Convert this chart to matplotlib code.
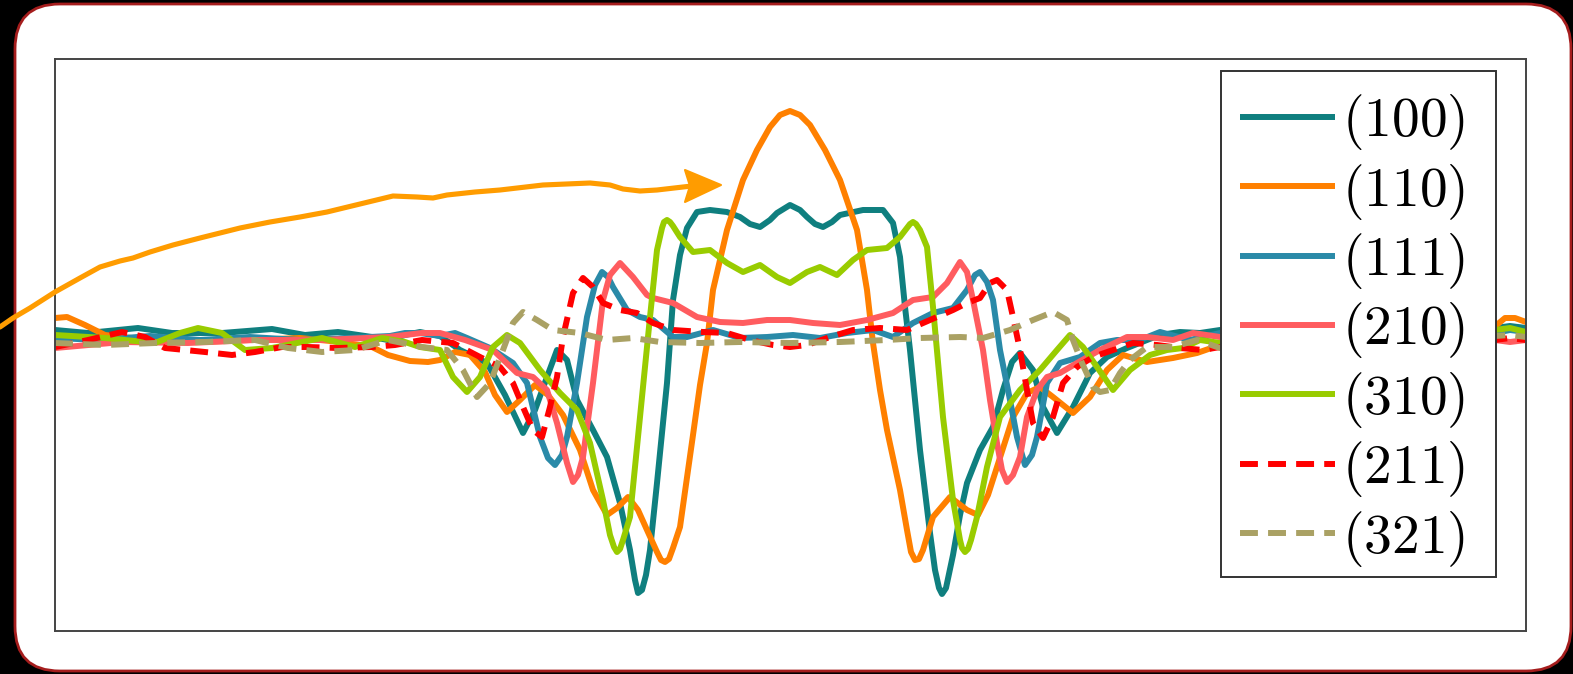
import numpy as np
import matplotlib
matplotlib.use('Agg')
import matplotlib.pyplot as plt
from matplotlib.patches import FancyBboxPatch, Polygon, Rectangle
from matplotlib.lines import Line2D
from matplotlib.transforms import Affine2D

plt.rcParams['mathtext.fontset'] = 'cm'

# ---- data (position offset, signal) ----
x_100 = [-733,-700,-650,-616,-566,-516,-483,-450,-416,-400,-383,-368,-348,-328,-301,-283,-265,-253,-241,-231,
         -221,-211,-195,-181,-168,-158,-153,-150,-146,-142,-138,-131,-121,-115,-108,-101,-91,-78,-61,-48,
         -38,-28,-18,-11,2,12,19,27,35,44,52,75,95,105,112,117,122,132,142,147,
         151,154,158,165,172,179,192,205,215,224,232,245,255,269,285,302,319,339,359,372,
         392,412,432,472,512,562,612,662,707,722,738]
y_100 = [10,7,12,7,7,11,5,8,3,0,5,8,4,-10,-23,-55,-93,-70,-37,-10,
         -20,-60,-90,-117,-163,-210,-240,-253,-250,-235,-210,-143,-43,40,85,112,128,130,128,123,
         116,113,120,127,135,130,123,116,113,118,125,130,130,117,83,33,-10,-110,-193,-230,
         -248,-254,-248,-215,-175,-143,-110,-87,-50,-22,-13,-30,-67,-93,-67,-33,-17,-8,0,5,
         8,7,10,6,10,7,10,8,12,14,12]

x_110 = [-733,-721,-703,-683,-638,-588,-538,-488,-448,-416,-400,-378,-360,-348,-333,-318,-303,-293,-281,-268,
         -253,-240,-225,-208,-195,-181,-171,-160,-150,-141,-131,-127,-123,-119,-115,-108,-95,-88,-81,-75,
         -61,-45,-31,-18,-8,2,12,22,37,52,69,79,85,92,99,112,119,123,127,131,
         135,145,162,179,190,200,209,225,239,252,265,285,302,319,335,359,385,409,432,472,
         512,562,612,662,692,705,717,727,738]
y_110 = [22,23,15,5,0,-2,0,2,-2,-7,-15,-21,-22,-20,-12,-15,-32,-55,-72,-60,
         -45,-55,-75,-110,-150,-175,-168,-157,-170,-190,-212,-220,-222,-219,-208,-187,-95,-45,-3,50,
         110,160,190,213,225,229,225,215,190,160,110,50,-3,-50,-90,-150,-190,-212,-220,-219,
         -210,-177,-157,-170,-175,-155,-127,-77,-53,-47,-57,-73,-57,-30,-15,-22,-18,-13,-5,0,
         -2,2,0,2,5,12,22,22,18]

x_111 = [-733,-688,-638,-588,-538,-488,-438,-398,-383,-368,-348,-333,-321,-298,-275,-261,-248,-240,-233,-226,
         -221,-211,-201,-193,-186,-180,-175,-161,-148,-135,-115,-101,-75,-48,-21,5,32,59,85,105,
         125,145,165,179,187,192,199,205,212,222,229,237,244,249,259,272,292,312,329,352,
         372,402,432,472,512,562,612,662,707,722,738]
y_111 = [2,0,4,0,3,0,2,4,7,7,4,7,2,-8,-23,-43,-97,-118,-125,-115,
         -97,-43,23,55,68,63,53,30,23,20,3,3,10,2,3,5,2,7,10,3,
         17,27,32,50,65,68,58,40,-10,-60,-97,-125,-115,-97,-43,-23,-17,-3,0,0,
         8,0,7,2,6,2,5,3,7,10,8]

x_210 = [-733,-666,-600,-533,-466,-400,-366,-348,-323,-295,-271,-255,-241,-231,-221,-215,-210,-205,-195,-185,
         -178,-168,-155,-141,-135,-115,-91,-68,-45,-21,2,25,52,79,105,125,145,159,172,179,
         185,195,202,209,214,219,225,232,239,249,259,272,289,312,339,359,385,405,432,472,
         512,562,612,662,707,722,738]
y_210 = [-8,-2,-3,0,0,3,7,7,0,-10,-33,-37,-50,-83,-123,-142,-135,-117,-43,40,
         65,77,63,45,42,37,23,18,17,20,20,17,15,20,27,40,43,57,78,68,
         40,-10,-60,-103,-130,-142,-135,-117,-77,-50,-37,-33,-23,-10,3,3,0,7,3,0,
         4,0,2,0,0,-2,0]

x_310 = [-733,-683,-633,-608,-590,-566,-543,-516,-466,-433,-406,-383,-368,-348,-335,-321,-308,-295,-281,-268,
         -248,-228,-211,-198,-185,-178,-174,-171,-168,-165,-158,-148,-138,-131,-126,-124,-121,-118,-115,-108,
         -95,-78,-61,-45,-28,-11,2,19,32,49,65,79,99,112,122,125,128,132,139,145,
         155,165,172,174,177,180,183,189,199,212,232,252,269,282,295,309,325,342,362,379,
         395,412,432,472,512,562,612,662,707,722,738]
y_310 = [5,2,-3,7,12,7,-10,-8,2,-7,2,-2,-7,-10,-37,-52,-37,-7,5,-3,
         -30,-53,-70,-103,-160,-195,-207,-212,-209,-200,-177,-77,23,90,112,118,120,118,114,103,
         88,90,77,68,75,63,57,68,73,65,80,90,92,103,116,118,116,110,93,33,
         -77,-160,-200,-208,-212,-209,-200,-177,-127,-77,-50,-30,-10,5,-7,-27,-50,-30,-15,-10,
         -8,0,-3,-5,0,-4,-2,0,10,12,8]

x_211 = [-733,-700,-666,-643,-623,-583,-556,-533,-506,-480,-450,-416,-393,-366,-335,-308,-288,-275,-265,-255,
         -246,-238,-231,-225,-215,-205,-195,-185,-168,-151,-135,-115,-85,-61,-38,-15,2,19,42,65,
         92,119,142,165,179,192,202,209,219,225,232,239,245,255,265,275,289,305,325,345,
         369,392,415,432,472,512,562,612,662,707,722,738]
y_211 = [-7,0,8,3,-8,-12,-15,-12,-7,-7,-8,-7,-5,0,-3,-17,-27,-43,-67,-90,
         -97,-67,-37,3,47,62,53,37,30,27,17,10,8,7,0,-5,-7,-5,3,10,
         12,10,20,30,37,42,57,60,50,23,-10,-50,-83,-98,-77,-43,-27,-17,-10,-3,
         -5,-8,-10,-7,-5,-8,-4,-7,-5,0,2,0]

x_321 = [-733,-683,-633,-583,-533,-500,-466,-433,-400,-366,-341,-325,-311,-298,-285,-275,-265,-251,-235,-208,
         -181,-155,-128,-88,-48,2,52,99,132,172,195,222,245,265,279,285,294,305,312,322,
         332,342,359,385,409,432,472,512,562,612,662,707,722,738]
y_321 = [-3,-5,-3,-2,0,-8,-12,-10,0,-7,-10,-30,-57,-43,-10,17,28,20,10,7,
         0,2,-2,-3,-2,-3,-2,0,2,3,2,10,20,28,20,0,-23,-47,-52,-50,
         -33,-20,-7,-7,0,-8,-5,-2,-6,-3,-5,4,5,3]

labels = ['(100)', '(110)', '(111)', '(210)', '(310)', '(211)', '(321)']
colors = ['#0f7f7f', '#ff8000', '#2a8aa8', '#ff5c5f', '#99cc00', '#ff0000', '#aaa164']
series = [(x_100, y_100), (x_110, y_110), (x_111, y_111), (x_210, y_210),
          (x_310, y_310), (x_211, y_211), (x_321, y_321)]
dashed = [False, False, False, False, False, True, True]

# hand-drawn arrow, image pixel coords (x right, y down)
arrow_x = [0, 13, 30, 55, 80, 100, 120, 133, 150, 173, 200, 240, 270, 300, 327, 360, 393, 417, 433, 447,
           475, 500, 543, 590, 610, 623, 640, 657, 683, 692]
arrow_y = [327, 318, 308, 292, 278, 267, 261, 258, 252, 245, 238, 228, 222, 217, 212, 204, 196, 197, 198, 195,
           192, 190, 185, 183, 185, 189, 191, 190, 187, 186]
head_x = [721, 685, 690, 685]
head_y = [185, 170, 186, 202]

W, H = 1573, 674
fig = plt.figure(figsize=(W/100, H/100), dpi=100, facecolor='black')
pix = Affine2D().scale(1, -1).translate(0, H)

panel = FancyBboxPatch((15, 4), 1556, 667, boxstyle='round,pad=0,rounding_size=45',
                       transform=pix, facecolor='white', edgecolor='#a51d1d', lw=2, zorder=0)
fig.add_artist(panel)

ax = fig.add_axes([55/W, 1-631/H, (1526-55)/W, (631-59)/H])
ax.set_facecolor('white')
for (xs, ys), c, lab, d in zip(series, colors, labels, dashed):
    if d:
        ax.plot(xs, ys, color=c, lw=4.3, dashes=(3.0, 1.7), label='$' + lab + '$')
    else:
        ax.plot(xs, ys, color=c, lw=4.3, label='$' + lab + '$',
                solid_joinstyle='round', solid_capstyle='butt')
ax.set_xlim(-733, 738)
ax.set_ylim(-291, 281)
ax.set_xticks([])
ax.set_yticks([])
for s in ax.spines.values():
    s.set_color('#444444')
    s.set_linewidth(1.4)

leg = ax.legend(loc='upper right', bbox_to_anchor=((1486-55)/(1526-55), (631-71)/(631-59)),
                borderaxespad=0, fontsize=40, frameon=False,
                handlelength=1.72, handletextpad=0.12, labelspacing=0.17, borderpad=0.38)
ax.add_patch(Rectangle((1221, 71), 275, 506, transform=pix, facecolor='white', edgecolor='#333333',
                       lw=1.4, zorder=4.5, clip_on=False))

fig.add_artist(Line2D(arrow_x, arrow_y, transform=pix, color='#ff9c00', lw=3.7, solid_capstyle='round',
                      solid_joinstyle='round'))
fig.add_artist(Polygon(list(zip(head_x, head_y)), closed=True, transform=pix, facecolor='#ff9c00',
                       edgecolor='#ff9c00', lw=1.5, joinstyle='round'))

fig.savefig('out.png', dpi=100, facecolor='black')
